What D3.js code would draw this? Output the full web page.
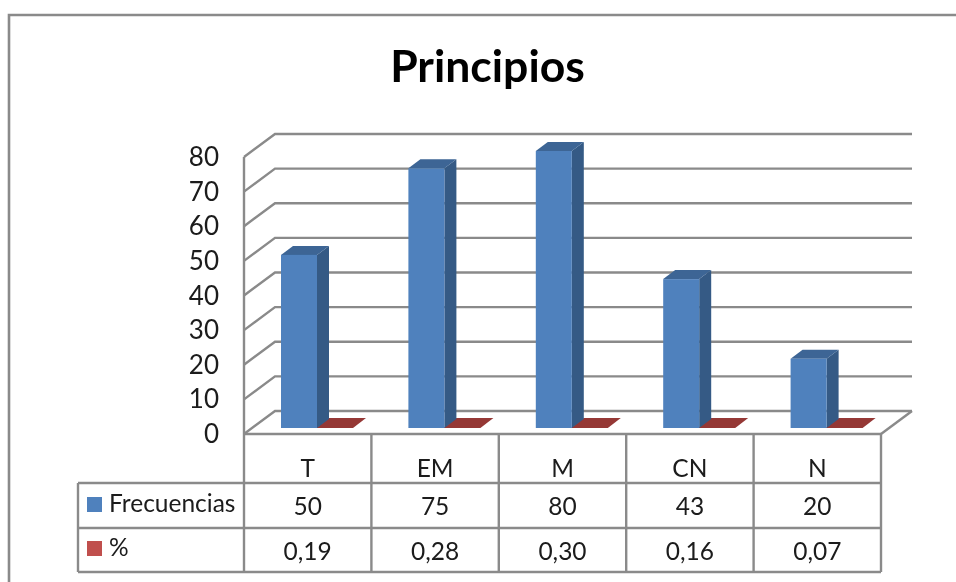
<!DOCTYPE html>
<html><head><meta charset="utf-8">
<script src="https://cdn.jsdelivr.net/npm/d3@7"></script>
<style>html,body{margin:0;padding:0;background:#fff}svg{display:block}text{font-family:Lato,"Open Sans",sans-serif;fill:#1a1a1a}</style>
</head><body><svg id="c" width="956" height="582"></svg>
<script>
const categories = ["T","EM","M","CN","N"];
const frecuencias = [50,75,80,43,20];
const porcentajes = [0.19,0.28,0.30,0.16,0.07];
const porcentajeLabels = ["0,19","0,28","0,30","0,16","0,07"];
const yTicks = [0,10,20,30,40,50,60,70,80];
const title = "Principios";
const seriesNames = ["Frecuencias","%"];

const GRID="#8a8a8a";
const svg=d3.select("#c");
svg.append("defs").append("filter").attr("id","soft").attr("x",0).attr("y",0).attr("width","100%").attr("height","100%")
  .attr("filterUnits","userSpaceOnUse").append("feGaussianBlur").attr("stdDeviation",0.55);
const dx=31, dy=-23;
const x=d3.scaleBand().domain(categories).range([244,881]);
const y=d3.scaleLinear().domain([0,80]).range([434,157]);
const barH=y(0)-y(1);
const g=svg.append("g").attr("filter","url(#soft)");
g.append("rect").attr("width",956).attr("height",582).attr("fill","#fff");

// chart frame
g.append("path").attr("d","M9,590V15H970").attr("fill","none").attr("stroke",GRID).attr("stroke-width",2.6);
g.append("text").attr("x",487.5).attr("y",82).attr("text-anchor","middle").attr("font-size",44.5).attr("font-weight",700).style("fill","#000").text(title);

// walls & gridlines
const L=x.range()[0],R=x.range()[1];
g.selectAll(".grid").data(yTicks).join("path").attr("class","grid")
 .attr("d",d=>d3.line()([[L,y(d)],[L+dx,y(d)+dy],[R+dx,y(d)+dy]])).attr("fill","none").attr("stroke",GRID).attr("stroke-width",2.4);
g.append("path").attr("d",`M${L},${y(0)}V${y(80)}`).attr("stroke",GRID).attr("stroke-width",2.4);
g.append("path").attr("d",`M${R},${y(0)}L${R+dx},${y(0)+dy}`).attr("stroke",GRID).attr("stroke-width",2.4);

// y labels
g.selectAll(".yl").data(yTicks).join("text").attr("class","yl").attr("x",219).attr("y",d=>y(d)+9)
 .attr("text-anchor","end").attr("font-size",26).text(d=>d);

// bars
const bw=36, bo=37, base=428;
const depth=[12,-9], rd=[13,-10];
const bars=g.selectAll(".b").data(categories.map((c,i)=>({c,v:frecuencias[i],p:porcentajes[i]}))).join("g").attr("class","b");
const h=d=>d.v*barH, X=d=>x(d.c)+bo;
// red flat series
bars.append("path").attr("fill","#953735").attr("d",d=>{const a=X(d)+bw;return d3.line()([[a-1,base],[a+bw,base],[a+bw+rd[0],base+rd[1]],[a-1+rd[0],base+rd[1]]])+"Z"});
bars.append("path").attr("fill","#345a85").attr("d",d=>{const a=X(d)+bw,t=base-h(d);return d3.line()([[a,base],[a,t],[a+depth[0],t+depth[1]],[a+depth[0],base+depth[1]]])+"Z"});
bars.append("path").attr("fill","#3c6595").attr("d",d=>{const a=X(d),t=base-h(d);return d3.line()([[a,t],[a+bw,t],[a+bw+depth[0],t+depth[1]],[a+depth[0],t+depth[1]]])+"Z"});
bars.append("rect").attr("fill","#4f81bd").attr("x",X).attr("y",d=>base-h(d)).attr("width",bw).attr("height",h);

// data table
const rows=[434,483,528,572], left=78;
const tl=g.append("g").attr("stroke",GRID).attr("stroke-width",2.4).attr("fill","none");
tl.append("path").attr("d",`M${L},${rows[0]}H${R}`);
rows.slice(1).forEach(r=>tl.append("path").attr("d",`M${left},${r}H${R}`));
tl.append("path").attr("d",`M${left},${rows[1]}V${rows[3]}`);
[...categories.map(c=>x(c)),R].forEach(v=>tl.append("path").attr("d",`M${v},${rows[0]}V${rows[3]}`));
const cx=c=>x(c)+x.bandwidth()/2;
const fs=24.5;
g.selectAll(".cat").data(categories).join("text").attr("class","cat").attr("x",cx).attr("y",477).attr("text-anchor","middle").attr("font-size",fs).text(d=>d);
g.selectAll(".fr").data(categories).join("text").attr("class","fr").attr("x",cx).attr("y",515).attr("text-anchor","middle").attr("font-size",fs).text((d,i)=>frecuencias[i]);
g.selectAll(".pc").data(categories).join("text").attr("class","pc").attr("x",cx).attr("y",560).attr("text-anchor","middle").attr("font-size",fs).text((d,i)=>porcentajeLabels[i]);
// legend keys
[["#4f81bd",497,seriesNames[0],512],["#c0504d",541,seriesNames[1],556]].forEach(([col,ky,t,ty])=>{
 g.append("rect").attr("x",87).attr("y",ky).attr("width",15).attr("height",15).attr("fill",col);
 g.append("text").attr("x",109).attr("y",ty).attr("font-size",fs).text(t);
});
</script></body></html>
